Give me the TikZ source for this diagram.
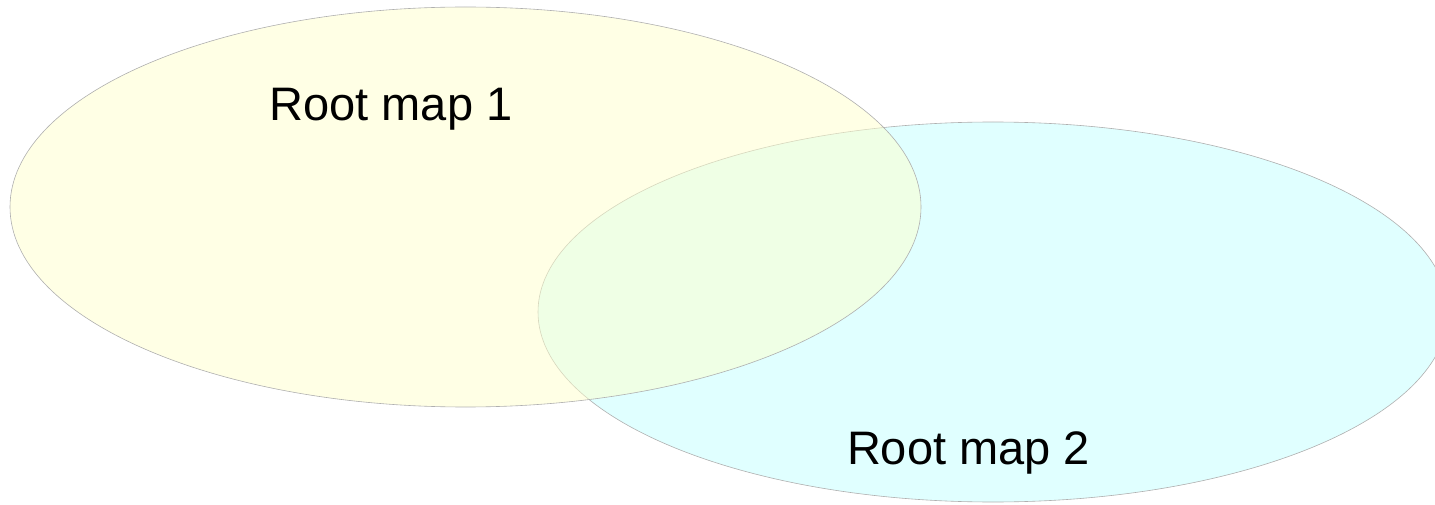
\documentclass[tikz,border=0pt]{standalone}
\usepackage{fontspec}
\setmainfont{Liberation Sans}
\usetikzlibrary{shapes.geometric}
\definecolor{rootyellow}{RGB}{255,255,204}
\definecolor{rootcyan}{RGB}{224,255,255}
\definecolor{rootline}{RGB}{175,175,175}
\tikzset{
  mapset/.style={ellipse, draw=rootline, line width=0.6pt, inner sep=0pt},
  maplabel/.style={font=\fontsize{47}{56}\selectfont, text=black, anchor=base, inner sep=0pt}
}
\begin{document}
\begin{tikzpicture}[x=1pt,y=1pt]
\useasboundingbox (0,0) rectangle (1435,504);
\node[mapset, fill=rootcyan, minimum width=910pt, minimum height=380pt] (map2) at (993,192) {};
\node[mapset, fill=rootyellow, fill opacity=0.5, minimum width=911pt, minimum height=400pt] (map1) at (465.5,297) {};
\node[maplabel] (label1) at (391,383) {Root map 1};
\node[maplabel] (label2) at (968.5,40) {Root map 2};
\end{tikzpicture}
\end{document}
